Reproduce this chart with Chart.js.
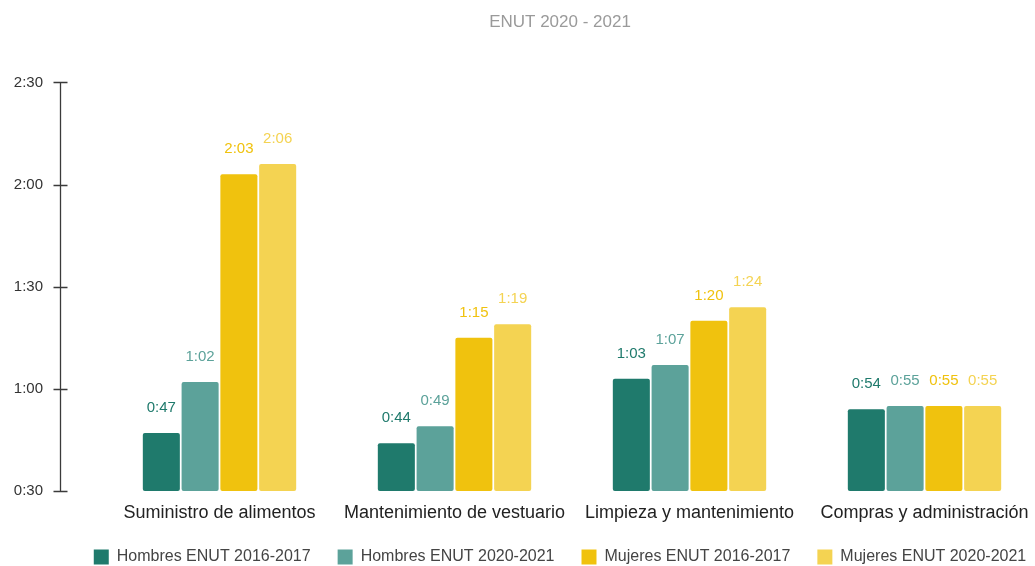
<!DOCTYPE html>
<html lang="es">
<head>
<meta charset="utf-8">
<title>ENUT 2020 - 2021</title>
<script src="https://cdn.jsdelivr.net/npm/chart.js@4.4.1/dist/chart.umd.min.js"></script>
<style>
    html, body { margin: 0; padding: 0; background: #fff; overflow: hidden; }
    #contenedor { width: 1035px; height: 566px; overflow: hidden; }
</style>
</head>
<body>
<div id="contenedor">
    <canvas id="grafica" width="1120" height="575"></canvas>
</div>
<script>
// datos en minutos (ENUT)
const categorias = ['Suministro de alimentos', 'Mantenimiento de vestuario', 'Limpieza y mantenimiento', 'Compras y administración'];
const series = ['Hombres ENUT 2016-2017', 'Hombres ENUT 2020-2021', 'Mujeres ENUT 2016-2017', 'Mujeres ENUT 2020-2021'];
const hombres2017 = [47, 44, 63, 54];
const hombres2021 = [62, 49, 67, 55];
const mujeres2017 = [123, 75, 80, 55];
const mujeres2021 = [126, 79, 84, 55];
const ejeMin = 30;
const ejeMax = 150;
const pasoEje = 30;

const colores = ['#1f7a6c', '#5ca29a', '#f0c20e', '#f4d352'];

// minutos -> h:mm
function aHoras(min) {
    const h = Math.floor(min / 60);
    const m = min % 60;
    return h + ':' + String(m).padStart(2, '0');
}

Chart.defaults.font.family = "'Liberation Sans', Arial, sans-serif";

// etiqueta de valor arriba de cada barra
const etiquetasBarras = {
    id: 'etiquetasBarras',
    afterDatasetsDraw(chart) {
        const ctx = chart.ctx;
        ctx.save();
        ctx.font = "15px 'Liberation Sans', Arial, sans-serif";
        ctx.textAlign = 'center';
        ctx.textBaseline = 'middle';
        chart.data.datasets.forEach((ds, i) => {
            const meta = chart.getDatasetMeta(i);
            ctx.fillStyle = ds.backgroundColor;
            meta.data.forEach((barra, j) => {
                ctx.fillText(aHoras(ds.data[j]), barra.x, barra.y - 25);
            });
        });
        ctx.restore();
    }
};

// linea del eje vertical con sus marcas
const lineaEjeY = {
    id: 'lineaEjeY',
    afterDraw(chart) {
        const escala = chart.scales.y;
        const ctx = chart.ctx;
        const x = 60.5;
        ctx.save();
        ctx.strokeStyle = '#3a3a3a';
        ctx.lineWidth = 1.3;
        ctx.beginPath();
        ctx.moveTo(x, escala.getPixelForValue(ejeMax));
        ctx.lineTo(x, escala.getPixelForValue(ejeMin));
        escala.ticks.forEach(t => {
            const y = Math.round(escala.getPixelForValue(t.value)) + 0.5;
            ctx.moveTo(x - 7, y);
            ctx.lineTo(x + 7, y);
        });
        ctx.stroke();
        ctx.restore();
    }
};

const valores = [hombres2017, hombres2021, mujeres2017, mujeres2021];

new Chart(document.getElementById('grafica'), {
    type: 'bar',
    data: {
        labels: categorias,
        datasets: series.map((nombre, i) => ({
            label: nombre,
            data: valores[i],
            backgroundColor: colores[i],
            borderWidth: 0,
            borderRadius: 2,
            borderSkipped: false,
            categoryPercentage: 0.66,
            barPercentage: 0.955,
            base: ejeMin
        }))
    },
    options: {
        responsive: false,
        animation: false,
        layout: { padding: 0 },
        plugins: {
            title: { display: false },
            subtitle: {
                display: true,
                text: 'ENUT 2020 - 2021',
                color: '#9a9a9a',
                font: { size: 17 },
                padding: { top: 12, bottom: 50 }
            },
            legend: {
                position: 'bottom',
                labels: {
                    boxWidth: 15,
                    boxHeight: 15,
                    padding: 27,
                    color: '#444',
                    font: { size: 16 }
                }
            },
            tooltip: { enabled: false }
        },
        scales: {
            x: {
                grid: { display: false, drawTicks: false },
                border: { display: false },
                ticks: {
                    color: '#222',
                    font: { size: 18 },
                    padding: 11,
                    maxRotation: 0,
                    autoSkip: false
                },
                afterFit(escala) { escala.height = 31; }
            },
            y: {
                min: ejeMin,
                max: ejeMax,
                grid: { display: false, drawTicks: false },
                border: { display: false },
                ticks: {
                    stepSize: pasoEje,
                    color: '#333',
                    font: { size: 15 },
                    padding: 59,
                    callback: v => aHoras(v)
                },
                afterFit(escala) { escala.width = 102; }
            },
            // espacio a la derecha
            y2: {
                position: 'right',
                grid: { display: false },
                border: { display: false },
                ticks: { display: false },
                afterFit(escala) { escala.width = 78; }
            }
        }
    },
    plugins: [etiquetasBarras, lineaEjeY]
});
</script>
</body>
</html>
